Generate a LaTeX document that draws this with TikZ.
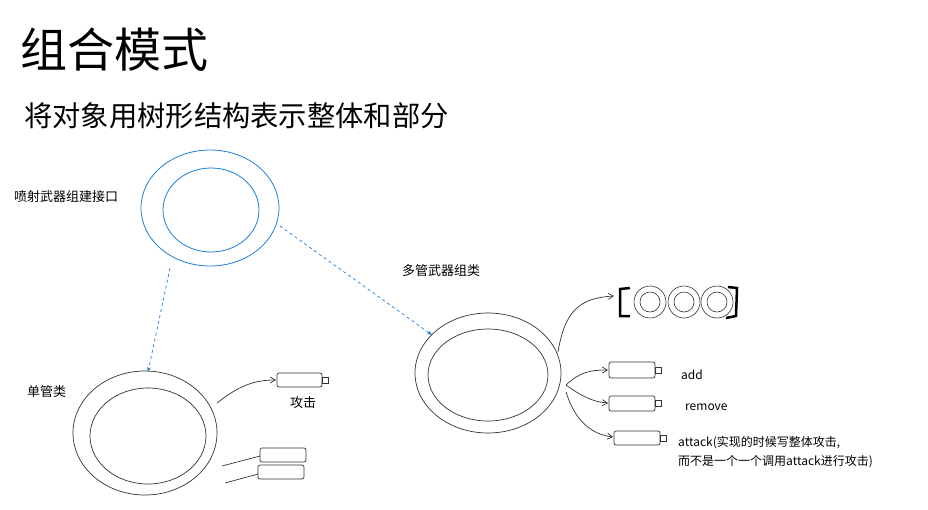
\documentclass[tikz,border=0pt]{standalone}
\usepackage{fontspec}
\setmainfont{Noto Sans CJK SC}
\usetikzlibrary{arrows.meta}
\definecolor{bl}{HTML}{1C7ED6}
\begin{document}
\begin{tikzpicture}[x=1pt,y=-1pt,
  blu/.style={draw=bl,line width=0.8pt},
  ink/.style={draw=black!80,line width=0.7pt},
  gun/.style={ink,rounded corners=2pt},
  arr/.style={ink,-{Straight Barb[length=5pt,width=6pt]}},
  darr/.style={draw=bl,line width=0.7pt,dashed,-{Stealth[length=5pt]}},
  lbl/.style={inner sep=0pt,anchor=west,font=\fontsize{13}{15}\selectfont}]
\useasboundingbox (0,0) rectangle (928,509);
\node[inner sep=0pt,anchor=west,font=\fontsize{47}{52}\selectfont] (title) at (20,50) {组合模式};
\node[inner sep=0pt,anchor=west,font=\fontsize{28.3}{32}\selectfont] (sub) at (24,116) {将对象用树形结构表示整体和部分};
% interface
\draw[blu] (210,208) ellipse [x radius=69,y radius=58];
\draw[blu] (211,210) ellipse [x radius=48,y radius=42];
\node[lbl] (ifl) at (14,197) {喷射武器组建接口};
\coordinate (d1a) at (170,268); \coordinate (d1b) at (148,372);
\coordinate (d2a) at (280,226); \coordinate (d2b) at (432,335);
\draw[darr] (d1a) -- (d1b);
\draw[darr] (d2a) -- (d2b);
% single
\draw[ink] (145,433) ellipse [x radius=72,y radius=62];
\draw[ink] (148,436) ellipse [x radius=58,y radius=48];
\node[lbl] (sl) at (27,392) {单管类};
\draw[gun] (277,373) rectangle (322,387); \draw[ink] (322,377) rectangle (328,383);
\node[lbl] (gj) at (290,403) {攻击};
\coordinate (s1) at (217,403);
\draw[arr] (s1) .. controls (240,385) and (255,380) .. (276,380);
\draw[gun] (260,448) rectangle (306,462);
\draw[gun] (258,465) rectangle (304,479);
\draw[ink] (222,466) -- (260,456);
\draw[ink] (225,483) -- (258,474);
% composite
\node[lbl] (ml) at (402,271) {多管武器组类};
\draw[ink] (488,373) ellipse [x radius=73,y radius=60];
\draw[ink] (488,375) ellipse [x radius=60,y radius=46];
\coordinate (c0) at (558,352);
\draw[arr] (c0) .. controls (565,310) and (580,298) .. (614,296);
\coordinate (c1) at (566,385);
\draw[arr] (c1) .. controls (580,372) and (590,370) .. (608,370);
\draw[arr] (c1) .. controls (580,395) and (592,402) .. (608,403);
\draw[arr] (566,392) .. controls (575,420) and (590,434) .. (613,437);
\draw[gun] (609,362) rectangle (655,378); \draw[ink] (655,367) rectangle (661,373);
\draw[gun] (609,396) rectangle (655,411); \draw[ink] (655,400) rectangle (661,406);
\draw[gun] (614,431) rectangle (660,445); \draw[ink] (660,435) rectangle (666,441);
\node[lbl,font=\fontsize{12}{14}\selectfont] (add) at (681,375) {add};
\node[lbl,font=\fontsize{12}{14}\selectfont] (rm) at (685,407) {remove};
\node[lbl,font=\fontsize{12}{14}\selectfont] (atk) at (678,443) {attack(实现的时候写整体攻击,};
\node[lbl,font=\fontsize{12}{14}\selectfont] (atk2) at (678,462) {而不是一个一个调用attack进行攻击)};
% icon
\draw[line width=2.5pt,black] (630,288) -- (620,289) -- (620,316) -- (630,316);
\draw[line width=2.5pt,black] (728,287) -- (737,288) -- (736,316) -- (726,318);
\foreach \cx in {650,684,717}{
  \draw[ink,line width=0.6pt] (\cx,302) circle (16);
  \draw[ink,line width=0.6pt] (\cx,302) circle (10);}
\end{tikzpicture}
\end{document}
